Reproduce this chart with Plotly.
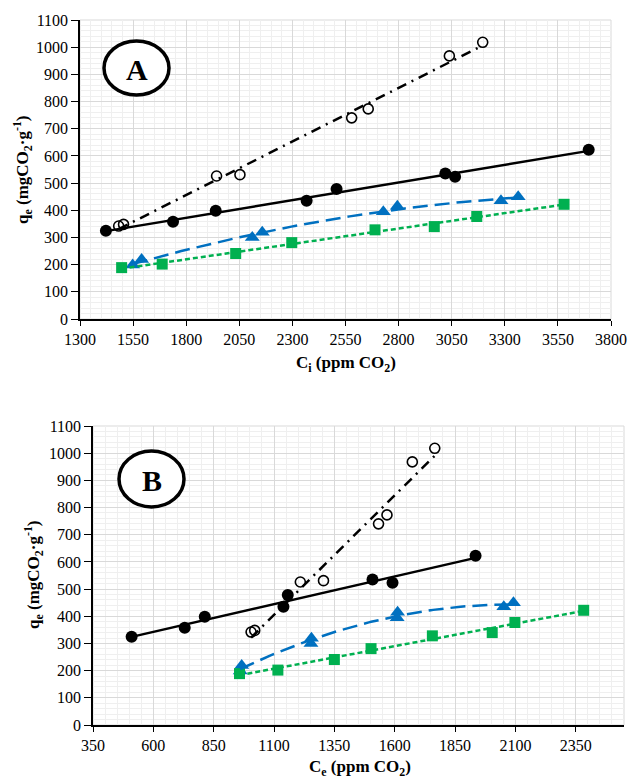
import numpy as np
import plotly.graph_objects as go

# ---------------- data ----------------
# Panel A: Ci (ppm CO2) vs qe ; Panel B: Ce (ppm CO2) vs qe
black_ci = [1422, 1738, 1939, 2367, 2508, 3020, 3066, 3695]
black_ce = [510, 730, 813, 1139, 1157, 1508, 1591, 1935]
black_q = [325, 358, 398, 435, 478, 535, 523, 623]

open_ci = [1482, 1505, 1943, 2053, 2579, 2657, 3039, 3196]
open_ce = [1005, 1020, 1209, 1305, 1533, 1568, 1673, 1766]
open_q = [342, 348, 526, 531, 740, 773, 968, 1018]

blue_ci = [1548, 1590, 2111, 2158, 2728, 2794, 3282, 3363]
blue_ce = [960, 966, 1253, 1255, 1610, 1612, 2052, 2092]
blue_q = [199, 219, 300, 319, 395, 415, 435, 450]

green_ci = [1496, 1687, 2033, 2297, 2689, 2968, 3168, 3579]
green_ce = [957, 1116, 1350, 1502, 1756, 2004, 2098, 2383]
green_q = [189, 202, 241, 281, 328, 340, 377, 422]

BLUE = "#0070C0"
GREEN = "#00B050"
FONT = "Liberation Serif, Times New Roman, serif"

W, H = 630, 779


def px_x(p):
    return p / W


def px_y(p):
    return 1 - p / H


fig = go.Figure()


def trend(x, y, deg, n=120):
    c = np.polyfit(x, y, deg)
    xs = np.linspace(min(x), max(x), n)
    return xs, np.polyval(c, xs)


def add_panel(xa, ya, bx, ox, bl, gr):
    # markers
    fig.add_trace(go.Scatter(x=bx, y=black_q, mode="markers", xaxis=xa, yaxis=ya,
                             marker=dict(symbol="circle", size=12, color="black"), showlegend=False))
    fig.add_trace(go.Scatter(x=ox, y=open_q, mode="markers", xaxis=xa, yaxis=ya,
                             marker=dict(symbol="circle-open", size=10, color="black", line=dict(width=1.6)),
                             showlegend=False))
    fig.add_trace(go.Scatter(x=bl, y=blue_q, mode="markers", xaxis=xa, yaxis=ya,
                             marker=dict(symbol="triangle-up", size=13, color=BLUE), showlegend=False))
    fig.add_trace(go.Scatter(x=gr, y=green_q, mode="markers", xaxis=xa, yaxis=ya,
                             marker=dict(symbol="square", size=11, color=GREEN), showlegend=False))
    # trendlines
    xs, ys = trend(bx, black_q, 1)
    fig.add_trace(go.Scatter(x=xs, y=ys, mode="lines", xaxis=xa, yaxis=ya,
                             line=dict(color="black", width=2.5), showlegend=False))
    xs, ys = trend(ox, open_q, 1)
    fig.add_trace(go.Scatter(x=xs, y=ys, mode="lines", xaxis=xa, yaxis=ya,
                             line=dict(color="black", width=2.5, dash="10px,6px,2px,6px"), showlegend=False))
    xs, ys = trend(bl, blue_q, 2)
    fig.add_trace(go.Scatter(x=xs, y=ys, mode="lines", xaxis=xa, yaxis=ya,
                             line=dict(color=BLUE, width=2.5, dash="15px,7px"), showlegend=False))
    xs, ys = trend(gr, green_q, 2)
    fig.add_trace(go.Scatter(x=xs, y=ys, mode="lines", xaxis=xa, yaxis=ya,
                             line=dict(color=GREEN, width=2.5, dash="5px,3px"), showlegend=False))


add_panel("x", "y", black_ci, open_ci, blue_ci, green_ci)
add_panel("x2", "y2", black_ce, open_ce, blue_ce, green_ce)

tickfont = dict(family=FONT, size=16, color="black")
common_x = dict(showline=True, linecolor="black", linewidth=1.5, ticks="outside", ticklen=5,
                tickcolor="black", tickfont=tickfont, gridcolor="#d9d9d9", gridwidth=1,
                zeroline=False, automargin=False,
                minor=dict(showgrid=True, gridcolor="#efefef", gridwidth=1, dtick=50, ticks=""))
common_y = dict(showline=True, linecolor="black", linewidth=1.5, ticks="outside", ticklen=7,
                tickcolor="black", tickfont=tickfont, gridcolor="#d9d9d9", gridwidth=1,
                zeroline=False, automargin=False, range=[0, 1100], tick0=0, dtick=100,
                minor=dict(showgrid=True, gridcolor="#efefef", gridwidth=1, dtick=20, ticks=""))

fig.update_layout(
    template="none",
    width=W, height=H,
    margin=dict(l=0, r=0, t=0, b=0, pad=0),
    paper_bgcolor="white", plot_bgcolor="white",
    font=dict(family=FONT, color="black"),
    showlegend=False,
    xaxis=dict(domain=[px_x(80), px_x(611)], anchor="y", range=[1300, 3800], tick0=1300, dtick=250, **common_x),
    yaxis=dict(domain=[px_y(319), px_y(20)], anchor="x", **common_y),
    xaxis2=dict(domain=[px_x(93), px_x(624)], anchor="y2", range=[350, 2550], tick0=350, dtick=250, **common_x),
    yaxis2=dict(domain=[px_y(725), px_y(426)], anchor="x2", **common_y),
)

# plot-area outlines (light grey)
for (l, t, r, b) in [(80, 20, 611, 319), (93, 426, 624, 725)]:
    fig.add_shape(type="rect", xref="paper", yref="paper", x0=px_x(l), x1=px_x(r), y0=px_y(b), y1=px_y(t),
                  line=dict(color="#d9d9d9", width=1), layer="below")

# panel labels in ellipses
for (x0, y0, x1, y1, lab) in [(104, 41, 169, 95, "A"), (119, 451, 184, 507, "B")]:
    fig.add_shape(type="circle", xref="paper", yref="paper", x0=px_x(x0), x1=px_x(x1),
                  y0=px_y(y1), y1=px_y(y0), line=dict(color="black", width=3.5), fillcolor="white")
    fig.add_annotation(xref="paper", yref="paper", x=px_x((x0 + x1) / 2), y=px_y((y0 + y1) / 2 + 1),
                       xanchor="center", yanchor="middle",
                       text="<b>%s</b>" % lab, showarrow=False, font=dict(family=FONT, size=30, color="black"))

titlefont = dict(family=FONT, size=17, color="black")
ytitle = "<b>q<sub>e</sub> (mgCO<sub>2</sub>·g<sup>-1</sup>)</b>"
fig.add_annotation(xref="paper", yref="paper", x=px_x(22), y=px_y(170), text=ytitle, textangle=-90,
                   xanchor="center", yanchor="middle", showarrow=False, font=titlefont)
fig.add_annotation(xref="paper", yref="paper", x=px_x(33), y=px_y(575), text=ytitle, textangle=-90,
                   xanchor="center", yanchor="middle", showarrow=False, font=titlefont)
fig.add_annotation(xref="paper", yref="paper", x=px_x(346), y=px_y(364),
                   xanchor="center", yanchor="middle",
                   text="<b>C<sub>i</sub> (ppm CO<sub>2</sub>)</b>", showarrow=False, font=titlefont)
fig.add_annotation(xref="paper", yref="paper", x=px_x(360), y=px_y(768),
                   xanchor="center", yanchor="middle",
                   text="<b>C<sub>e</sub> (ppm CO<sub>2</sub>)</b>", showarrow=False, font=titlefont)

fig.write_html("out.html", config={"displayModeBar": False},
               post_script="document.body.style.margin='0px';document.body.style.overflow='hidden';")
